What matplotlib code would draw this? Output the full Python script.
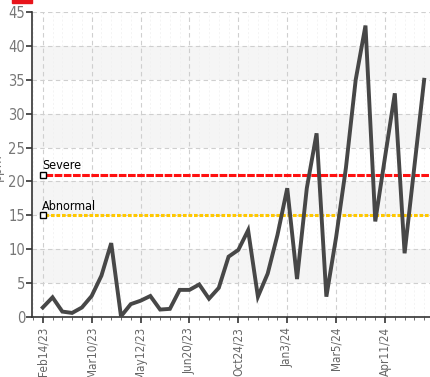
import matplotlib
matplotlib.use("Agg")
import matplotlib.pyplot as plt
import numpy as np
from matplotlib.ticker import MultipleLocator
from matplotlib.patches import Rectangle

# --- datos ---
valores = [1.4, 2.9, 0.8, 0.6, 1.4, 3.1, 6.1, 10.9, 0.1, 1.9,
           2.4, 3.1, 1.1, 1.2, 4.0, 4.0, 4.8, 2.7, 4.3, 8.9,
           9.9, 12.8, 3.0, 6.4, 12.1, 19.0, 5.6, 19.0, 27.1, 3.0,
           11.8, 22.0, 35.0, 43.0, 14.1, 23.6, 33.0, 9.4, 22.2, 35.0]
etiquetas = ["Feb14/23", "Mar10/23", "May12/23", "Jun20/23",
             "Oct24/23", "Jan3/24", "Mar5/24", "Apr11/24"]
paso_etiquetas = 5
umbrales = [21, 15]
nombres_umbral = ["Severe", "Abnormal"]
colores_umbral = ["#ff1010", "#ffc800"]

plt.rcParams["font.family"] = ["DejaVu Sans"]
plt.rcParams["font.stretch"] = "condensed"

fig = plt.figure(figsize=(4.31, 3.77), dpi=100)
ax = fig.add_axes([32 / 431, 60 / 377, 399 / 431, 305 / 377])

x = np.arange(len(valores))

# bandas grises alternas
for y0 in range(5, 45, 10):
    ax.axhspan(y0, y0 + 5, color="#f5f5f5", zorder=0, lw=0)

# umbrales
estilos = [(0, (2.5, 0.5)), (0, (1.2, 0.6))]
for val, nom, col, ls in zip(umbrales, nombres_umbral, colores_umbral, estilos):
    ax.plot([x[0] + 0.2, x[-1] + 0.6], [val, val], color=col, lw=2.2, ls=ls, zorder=3)
    ax.plot([x[0]], [val], marker="s", ms=4, mfc="white", mec="black", mew=1, zorder=4)
    ax.text(x[0] - 0.1, val + 0.4, nom, fontsize=9, color="black", ha="left", va="bottom",
            fontstretch="condensed", zorder=5)

ax.plot(x, valores, color="#474747", lw=2.8, solid_joinstyle="miter", zorder=6)

ax.set_xlim(-1.1, len(valores) - 0.3)
ax.set_ylim(0, 45)

ax.set_xticks(x[::paso_etiquetas])
ax.set_xticklabels(etiquetas, rotation=90, fontsize=8.5, color="#666666", fontstretch="condensed")
for t in ax.get_yticklabels():
    t.set_fontstretch("condensed")
ax.xaxis.set_minor_locator(MultipleLocator(1))
ax.yaxis.set_major_locator(MultipleLocator(5))
ax.tick_params(axis="y", labelsize=10.5, colors="#333333", labelcolor="#777777", length=4, width=1.2, pad=1)
ax.tick_params(axis="x", which="major", length=4, width=1.2, color="#333333", pad=3)
ax.tick_params(axis="x", which="minor", length=2, width=0.6, color="#555555")

ax.grid(axis="y", which="major", ls=(0, (4, 3)), color="#cfcfcf", lw=0.8, zorder=1)
ax.grid(axis="x", which="major", ls=(0, (4, 3)), color="#cfcfcf", lw=0.8, zorder=1)
ax.grid(axis="x", which="minor", ls=(0, (3, 3)), color="#f0f0f0", lw=0.5, zorder=1)
ax.set_axisbelow(True)

for s in ["top", "right"]:
    ax.spines[s].set_visible(False)
ax.spines["left"].set_color("#333333")
ax.spines["bottom"].set_color("#333333")
ax.spines["left"].set_linewidth(1.2)
ax.spines["bottom"].set_linewidth(1.2)

ax.set_ylabel("ppm", fontsize=10, color="#777777", labelpad=2, fontstretch="condensed")
ax.yaxis.set_label_coords(-0.07, 0.49)

# leyenda recortada en la parte superior
fig.patches.append(Rectangle((12 / 431, 374 / 377), 20 / 431, 10 / 377,
                             transform=fig.transFigure, color="#e8141b"))

fig.savefig("out.png", dpi=100)
